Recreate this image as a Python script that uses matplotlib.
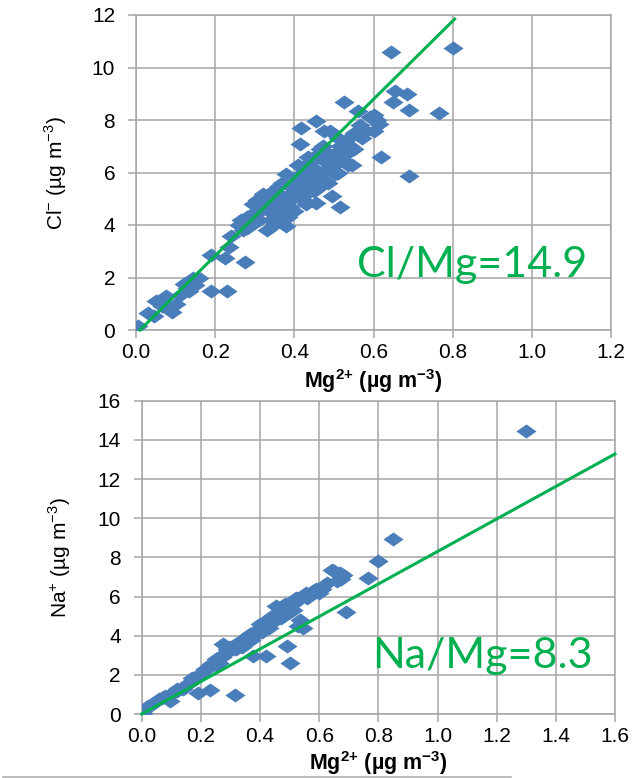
import matplotlib
matplotlib.use("Agg")
import matplotlib.pyplot as plt
import numpy as np

plt.rcParams['font.family'] = ['Liberation Sans', 'DejaVu Sans']
plt.rcParams['mathtext.fontset'] = 'custom'
plt.rcParams['mathtext.rm'] = 'Liberation Sans'
plt.rcParams['mathtext.bf'] = 'Liberation Sans:bold'

# Cl- vs Mg2+ (ug m-3)
cl_mg = [0.005, 0.03, 0.045, 0.05, 0.065, 0.075, 0.09, 0.10, 0.11, 0.12,
         0.13, 0.145, 0.15, 0.16, 0.135, 0.19, 0.23, 0.19, 0.225, 0.275,
         0.235, 0.24, 0.26, 0.265, 0.27, 0.28, 0.29, 0.295, 0.30, 0.305,
         0.31, 0.31, 0.32, 0.32, 0.33, 0.335, 0.34, 0.345, 0.35, 0.355,
         0.36, 0.365, 0.37, 0.375, 0.38, 0.385, 0.38, 0.39, 0.395, 0.40,
         0.405, 0.41, 0.41, 0.415, 0.418, 0.42, 0.425, 0.43, 0.435, 0.44,
         0.445, 0.448, 0.45, 0.455, 0.455, 0.46, 0.465, 0.47, 0.473, 0.475,
         0.48, 0.485, 0.49, 0.49, 0.495, 0.50, 0.503, 0.51, 0.515, 0.515,
         0.52, 0.525, 0.53, 0.535, 0.545, 0.55, 0.56, 0.565, 0.58, 0.60,
         0.61, 0.615, 0.62, 0.645, 0.65, 0.655, 0.685, 0.69, 0.69, 0.765,
         0.80,
         0.33, 0.36, 0.37, 0.39, 0.40, 0.42, 0.43, 0.44, 0.45, 0.46,
         0.47, 0.48, 0.50, 0.51, 0.52, 0.53, 0.54, 0.55, 0.57, 0.59,
         0.60, 0.47, 0.41, 0.35, 0.30, 0.28, 0.36, 0.43]
cl = [0.15, 0.65, 0.55, 1.10, 0.90, 1.30, 0.70, 1.00, 1.35, 1.75,
      1.60, 2.00, 1.70, 2.00, 1.50, 1.50, 1.50, 2.85, 2.75, 2.60,
      3.15, 3.60, 4.00, 4.20, 3.80, 4.30, 4.00, 4.80, 4.50, 4.95,
      4.20, 5.00, 5.20, 4.60, 3.80, 4.55, 4.20, 5.30, 4.05, 4.80,
      5.50, 4.40, 5.10, 4.70, 3.95, 4.30, 5.95, 5.50, 5.00, 4.55,
      5.80, 6.30, 5.20, 7.10, 7.70, 6.00, 5.50, 5.20, 6.60, 5.70,
      6.20, 5.85, 6.60, 7.95, 4.85, 5.40, 6.90, 6.00, 7.00, 7.60,
      6.40, 5.60, 7.60, 6.20, 5.10, 6.70, 5.95, 7.30, 7.00, 4.70,
      6.50, 8.70, 7.25, 6.30, 6.30, 7.50, 8.35, 7.80, 7.60, 8.20,
      8.00, 7.85, 6.60, 10.60, 8.70, 9.10, 9.00, 8.40, 5.85, 8.25,
      10.75,
      5.00, 4.90, 5.60, 4.70, 5.30, 5.00, 5.90, 6.40, 5.30, 6.00,
      5.70, 6.80, 6.30, 6.00, 6.90, 6.70, 7.00, 6.90, 7.30, 8.10,
      7.60, 6.50, 5.60, 4.50, 4.10, 3.90, 4.20, 4.80]

# Na+ vs Mg2+ (ug m-3)
na_mg = [0.005, 0.03, 0.045, 0.06, 0.08, 0.095, 0.10, 0.12, 0.14, 0.15,
         0.165, 0.18, 0.19, 0.20, 0.215, 0.23, 0.235, 0.25, 0.26, 0.275,
         0.28, 0.295, 0.31, 0.315, 0.32, 0.33, 0.34, 0.35, 0.355, 0.365,
         0.375, 0.38, 0.39, 0.40, 0.405, 0.41, 0.42, 0.425, 0.43, 0.44,
         0.445, 0.455, 0.46, 0.47, 0.48, 0.49, 0.49, 0.50, 0.50, 0.51,
         0.52, 0.53, 0.535, 0.545, 0.555, 0.57, 0.59, 0.60, 0.625, 0.645,
         0.66, 0.675, 0.68, 0.69, 0.765, 0.80, 0.85, 1.30,
         0.25, 0.27, 0.29, 0.30, 0.32, 0.34, 0.36, 0.37, 0.385, 0.40,
         0.42, 0.435, 0.45, 0.465, 0.475, 0.485, 0.50, 0.51, 0.53, 0.54,
         0.56, 0.58, 0.61, 0.12, 0.16, 0.17, 0.22, 0.07, 0.02, 0.66,
         0.65, 0.67]
na = [0.03, 0.45, 0.60, 0.75, 0.90, 0.65, 1.00, 1.15, 1.30, 1.50,
      1.65, 1.80, 1.05, 2.10, 2.30, 1.25, 2.55, 2.80, 2.60, 3.60,
      3.10, 3.20, 3.30, 0.95, 3.55, 3.60, 3.40, 3.90, 3.70, 4.10,
      2.95, 4.00, 4.30, 4.60, 4.20, 4.50, 2.95, 4.80, 4.40, 5.00,
      4.70, 5.50, 5.10, 4.90, 5.30, 5.50, 3.45, 2.60, 5.20, 5.60,
      5.90, 4.50, 4.80, 4.40, 6.20, 6.10, 6.40, 6.20, 6.70, 7.35,
      7.20, 6.90, 7.10, 5.20, 6.95, 7.80, 8.95, 14.45,
      2.50, 2.90, 3.30, 3.40, 3.30, 3.80, 4.00, 3.80, 4.20, 4.40,
      4.60, 4.90, 4.90, 5.20, 5.10, 5.60, 5.60, 5.30, 5.80, 6.00,
      5.90, 6.30, 6.40, 1.30, 1.60, 1.85, 2.30, 0.80, 0.40, 6.80,
      7.30, 7.20]

cl_slope = 14.9
na_slope = 8.3

blue = '#4a7ebb'
green = '#00b050'
grid = '#a6a6a6'

# Excel-style diamond, wider than tall
diamond = [(-1, 0), (0, 0.7), (1, 0), (0, -0.7), (-1, 0)]

fig = plt.figure(figsize=(6.39, 7.78), dpi=100)
ax1 = fig.add_axes([136 / 639, 1 - 330 / 778, 475 / 639, 315 / 778])
ax2 = fig.add_axes([141.7 / 639, 1 - 714 / 778, 473.3 / 639, 313.3 / 778])


def style(ax, xmax, ymax):
    ax.set_xlim(0, xmax)
    ax.set_ylim(0, ymax)
    ax.set_xticks(np.arange(0, xmax + 0.01, 0.2))
    ax.set_xticklabels(['%.1f' % t for t in np.arange(0, xmax + 0.01, 0.2)])
    ax.set_yticks(np.arange(0, ymax + 0.1, 2))
    ax.grid(True, color=grid, lw=1.1)
    ax.set_axisbelow(True)
    for s in ax.spines.values():
        s.set_color(grid)
        s.set_linewidth(1.1)
    ax.tick_params(colors=grid, length=6, width=1.1, labelsize=15,
                   labelcolor='black')
    ax.tick_params(axis='x', pad=3)
    ax.tick_params(axis='y', pad=9)


style(ax1, 1.2, 12)
style(ax2, 1.6, 16)

ax1.scatter(cl_mg, cl, marker=diamond, s=210, color=blue, lw=0, zorder=3)
x1 = np.array([0.01, 0.805])
ax1.plot(x1, cl_slope * x1 - 0.15, color=green, lw=2.2, zorder=4,
         clip_on=False)
ax1.text(0.558, 2.02, 'Cl/Mg=%.1f' % cl_slope, color=green, fontsize=31,
         family='Lato', va='baseline', ha='left')

ax2.scatter(na_mg, na, marker=diamond, s=210, color=blue, lw=0, zorder=3)
x2 = np.array([0.0, 1.6])
ax2.plot(x2, na_slope * x2, color=green, lw=2.2, zorder=4, clip_on=False)
ax2.text(0.78, 2.35, 'Na/Mg=%.1f' % na_slope, color=green, fontsize=31,
         family='Lato', va='baseline', ha='left')

xlab = 'Mg$^{\\mathbf{2{+}}}$ (µg m$^{\\mathbf{-3}}$)'
for ax, yl, xy in [(ax1, 'Cl$^{-}$ (µg m$^{-3}$)', (-0.168, -0.162)),
                   (ax2, 'Na$^{+}$ (µg m$^{-3}$)', (-0.173, -0.158))]:
    ax.text(0.5, xy[1], xlab, transform=ax.transAxes, ha='center',
            va='center', fontsize=15.5, fontweight='bold')
    ax.text(xy[0], 0.498, yl, transform=ax.transAxes, ha='center',
            va='center', rotation=90, fontsize=15)

fig.add_artist(plt.Line2D([0.005, 0.8], [1 - 777 / 778] * 2,
                          color='#b0b0b0', lw=1.2))

fig.savefig('out.png', dpi=100)
